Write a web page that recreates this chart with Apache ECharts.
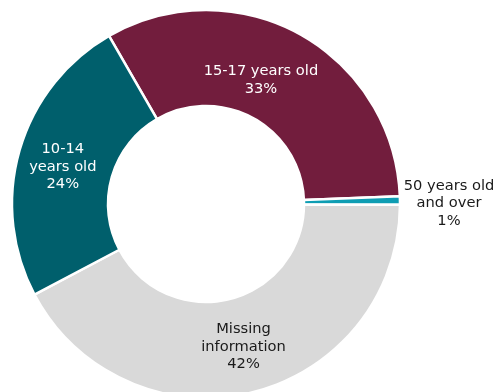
<!DOCTYPE html>
<html>
<head>
<meta charset="utf-8">
<script src="https://cdn.jsdelivr.net/npm/echarts@6/dist/echarts.min.js"></script>
<style>
html,body{margin:0;padding:0;background:#fff;}
#c{width:502px;height:392px;}
</style>
</head>
<body>
<div id="c"></div>
<script>
// Data
var categories = ['15-17 years old', '50 years old and over', 'Missing information', '10-14 years old'];
var values = [32.7, 0.7, 42.2, 24.4];
var labelText = ['15-17 years old', '50 years old\nand over', 'Missing\ninformation', '10-14\nyears old'];

// Styles (kept separate from data)
var colors = ['#721D3D', '#0E9DB3', '#D9D9D9', '#005F6C'];
var labelColors = ['#ffffff', '#1a1a1a', '#1a1a1a', '#ffffff'];
var labelOffsets = [[-17, 6.5], [94, 2], [2, -2], [0, 4]];

var data = categories.map(function (name, i) {
  return {
    name: name,
    value: values[i],
    itemStyle: { color: colors[i] },
    label: { color: labelColors[i], offset: labelOffsets[i] }
  };
});

var chart = echarts.init(document.getElementById('c'), null, { renderer: 'canvas' });
chart.setOption({
  backgroundColor: '#ffffff',
  animation: false,
  series: [{
    type: 'pie',
    center: [206, 204],
    radius: [98, 194],
    startAngle: 120,
    clockwise: true,
    percentPrecision: 0,
    avoidLabelOverlap: false,
    itemStyle: { borderColor: '#ffffff', borderWidth: 2.5 },
    label: {
      show: true,
      position: 'inside',
      fontFamily: 'DejaVu Sans',
      fontSize: 14.67,
      lineHeight: 17.5,
      align: 'center',
      formatter: function (p) {
        return labelText[p.dataIndex] + '\n' + p.percent + '%';
      }
    },
    labelLine: { show: false },
    emphasis: { disabled: true },
    data: data
  }]
});
</script>
</body>
</html>
